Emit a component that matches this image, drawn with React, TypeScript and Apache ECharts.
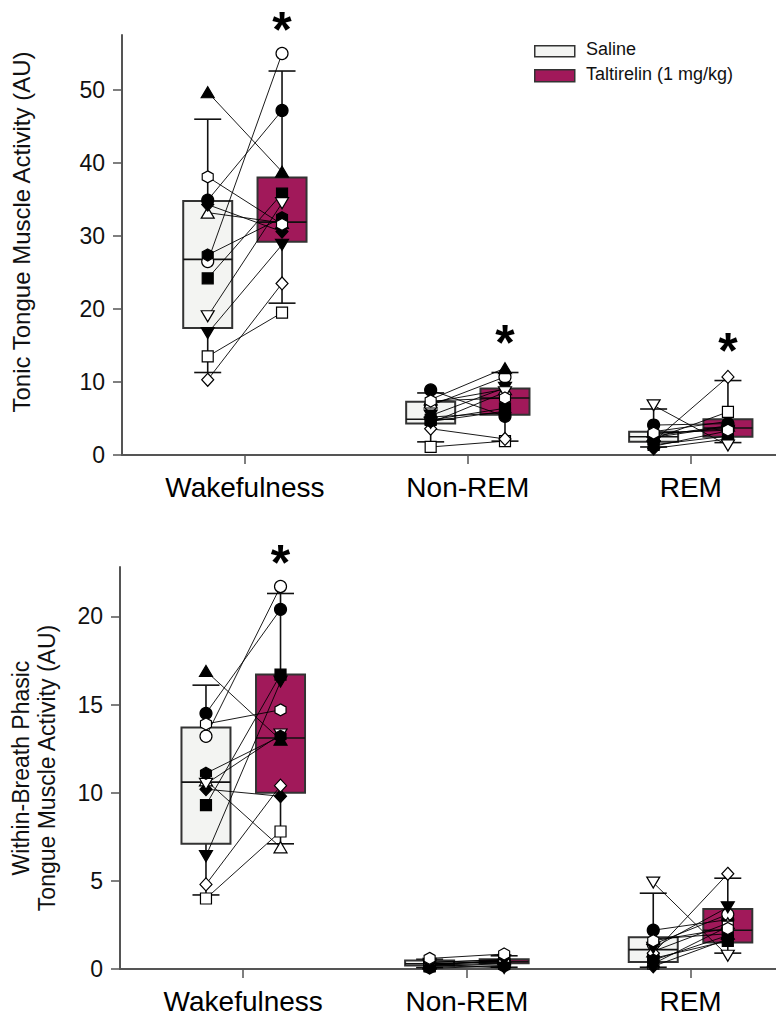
import React, { useEffect, useRef } from 'react';
import * as echarts from 'echarts';

const categories = ['Wakefulness', 'Non-REM', 'REM'];
const groupNames = ['Saline', 'Taltirelin (1 mg/kg)'];

// subject order: ● ○ ▲ △ ■ □ ◆ ◇ ▼ ▽ ⬢ ⬡
const subjectShapes = ['circle', 'circle', 'triangle', 'triangle', 'rect', 'rect', 'diamond', 'diamond', 'triangleDown', 'triangleDown', 'hexagon', 'hexagon'];
const subjectFilled = [true, false, true, false, true, false, true, false, true, false, true, false];

// Tonic tongue muscle activity, per state (Wake, NREM, REM), per subject
const tonicSaline = [
  [34.9, 26.5, 49.7, 33.2, 24.2, 13.5, 34.3, 10.3, 16.7, 19.0, 27.4, 38.1],
  [8.9, 6.8, 7.6, 7.2, 4.8, 1.1, 5.2, 3.6, 5.4, 4.4, 4.6, 7.4],
  [4.1, 2.9, 3.2, 2.6, 1.4, 2.2, 0.9, 1.9, 1.2, 6.8, 2.4, 3.0],
];
const tonicTaltirelin = [
  [47.2, 55.0, 38.8, 31.8, 35.8, 19.5, 30.6, 23.5, 28.8, 34.5, 32.5, 31.6],
  [5.3, 10.7, 11.9, 9.0, 6.4, 1.9, 5.8, 2.2, 9.2, 8.6, 6.0, 7.8],
  [4.3, 3.6, 4.6, 4.0, 2.6, 5.9, 2.2, 10.7, 3.3, 1.3, 3.9, 3.4],
];
// [lower whisker, Q1, median, Q3, upper whisker]
const tonicSalineBox = [[11.3, 17.4, 26.8, 34.8, 46.0], [1.8, 4.3, 4.9, 7.3, 8.5], [1.1, 1.8, 2.5, 3.2, 6.3]];
const tonicTaltirelinBox = [[20.8, 29.2, 31.9, 38.0, 52.6], [1.9, 5.5, 7.8, 9.1, 11.3], [1.7, 2.5, 3.7, 4.9, 10.2]];

// Within-breath phasic tongue muscle activity
const phasicSaline = [
  [14.5, 13.2, 16.9, 10.7, 9.3, 4.0, 10.2, 4.8, 6.4, 10.5, 11.1, 13.9],
  [0.3, 0.4, 0.35, 0.3, 0.15, 0.2, 0.1, 0.25, 0.2, 0.3, 0.05, 0.6],
  [2.2, 1.4, 1.7, 1.0, 0.6, 0.3, 0.15, 0.9, 1.2, 4.9, 0.5, 1.6],
];
const phasicTaltirelin = [
  [20.4, 21.7, 13.0, 6.9, 16.7, 7.8, 9.8, 10.4, 16.3, 13.3, 13.2, 14.7],
  [0.45, 0.5, 0.55, 0.4, 0.3, 0.35, 0.2, 0.45, 0.5, 0.05, 0.15, 0.85],
  [2.8, 3.1, 2.0, 2.6, 1.6, 2.4, 1.7, 5.4, 3.5, 0.75, 1.9, 2.3],
];
const phasicSalineBox = [[4.2, 7.1, 10.6, 13.7, 16.1], [0.08, 0.2, 0.3, 0.48, 0.55], [0.1, 0.4, 1.1, 1.8, 4.3]];
const phasicTaltirelinBox = [[7.1, 10.0, 13.1, 16.7, 21.3], [0.1, 0.32, 0.42, 0.55, 0.75], [0.9, 1.5, 2.2, 3.4, 5.15]];

// significance markers: [state index, y value]
const tonicStars = [[0, 58.2], [1, 15.3], [2, 14.2]];
const phasicStars = [[0, 23.05]];

const tonicTicks = [0, 10, 20, 30, 40, 50];
const phasicTicks = [0, 5, 10, 15, 20];

const SALINE_FILL = '#f3f4f2';
const TALT_FILL = '#a1195a';
const AXIS_COLOR = '#555';
const FONT = 'Liberation Sans, Arial, Helvetica, sans-serif';
const OFF = 37.5 / 225;
const XMIN = -124 / 225;
const XMAX = 536 / 225;

const symbolFor = (shape: string) => {
  if (shape === 'triangleDown') return 'path://M0,0L10,0L5,9Z';
  if (shape === 'hexagon') return 'path://M5,0L9.33,2.5L9.33,7.5L5,10L0.67,7.5L0.67,2.5Z';
  return shape;
};
const sizeFor = (shape: string) => {
  switch (shape) {
    case 'circle': return 12;
    case 'triangle': return [13, 11];
    case 'triangleDown': return [13, 11];
    case 'rect': return 11;
    case 'diamond': return [12, 13];
    case 'hexagon': return [11, 12];
    default: return 12;
  }
};

function buildPanelSeries(gi: number, sal: number[][], tal: number[][], salBox: number[][], talBox: number[][], stars: number[][]) {
  const boxData: number[][] = [];
  const lineData: number[][] = [];
  const pointData: any[] = [];
  categories.forEach((_, i) => {
    boxData.push([i - OFF, ...salBox[i], 0]);
    boxData.push([i + OFF, ...talBox[i], 1]);
    subjectShapes.forEach((shape, s) => {
      lineData.push([i - OFF, sal[i][s], i + OFF, tal[i][s]]);
    });
    [sal, tal].forEach((arr, g) => {
      subjectShapes.forEach((shape, s) => {
        pointData.push({
          value: [i + (g === 0 ? -OFF : OFF), arr[i][s]],
          symbol: symbolFor(shape),
          symbolSize: sizeFor(shape),
          itemStyle: { color: subjectFilled[s] ? '#000' : '#fff', borderColor: '#000', borderWidth: 1.2, opacity: 1 },
        });
      });
    });
  });
  return [
    {
      type: 'custom', xAxisIndex: gi, yAxisIndex: gi, z: 2, clip: false,
      encode: { x: 0, y: [1, 2, 3, 4, 5] },
      data: boxData,
      renderItem: (params: any, api: any) => {
        const x = api.value(0);
        const lo = api.coord([x, api.value(1)]);
        const q1 = api.coord([x, api.value(2)]);
        const med = api.coord([x, api.value(3)]);
        const q3 = api.coord([x, api.value(4)]);
        const hi = api.coord([x, api.value(5)]);
        const fill = api.value(6) === 0 ? SALINE_FILL : TALT_FILL;
        const bw = 49, cw = 27;
        const ls = { stroke: '#111', lineWidth: 1.6 };
        return {
          type: 'group',
          children: [
            { type: 'line', shape: { x1: hi[0], y1: hi[1], x2: q3[0], y2: q3[1] }, style: ls },
            { type: 'line', shape: { x1: lo[0], y1: lo[1], x2: q1[0], y2: q1[1] }, style: ls },
            { type: 'line', shape: { x1: hi[0] - cw / 2, y1: hi[1], x2: hi[0] + cw / 2, y2: hi[1] }, style: ls },
            { type: 'line', shape: { x1: lo[0] - cw / 2, y1: lo[1], x2: lo[0] + cw / 2, y2: lo[1] }, style: ls },
            { type: 'rect', shape: { x: q3[0] - bw / 2, y: q3[1], width: bw, height: q1[1] - q3[1] }, style: { fill, stroke: '#333', lineWidth: 2 } },
            { type: 'line', shape: { x1: med[0] - bw / 2, y1: med[1], x2: med[0] + bw / 2, y2: med[1] }, style: { stroke: '#111', lineWidth: 1.6 } },
          ],
        };
      },
    },
    {
      type: 'custom', xAxisIndex: gi, yAxisIndex: gi, z: 3, clip: false,
      encode: { x: [0, 2], y: [1, 3] },
      data: lineData,
      renderItem: (params: any, api: any) => {
        const a = api.coord([api.value(0), api.value(1)]);
        const b = api.coord([api.value(2), api.value(3)]);
        return { type: 'line', shape: { x1: a[0], y1: a[1], x2: b[0], y2: b[1] }, style: { stroke: '#000', lineWidth: 0.9 } };
      },
    },
    {
      type: 'scatter', xAxisIndex: gi, yAxisIndex: gi, z: 4, clip: false,
      itemStyle: { opacity: 1 },
      data: pointData,
    },
    {
      type: 'custom', xAxisIndex: gi, yAxisIndex: gi, z: 5, clip: false,
      encode: { x: 0, y: 1 },
      data: stars.map((st) => [st[0] + OFF, st[1]]),
      renderItem: (params: any, api: any) => {
        const p = api.coord([api.value(0), api.value(1)]);
        return {
          type: 'text', x: p[0], y: p[1],
          style: { text: '*', fontSize: 50, fontWeight: 'bold', fontFamily: FONT, fill: '#000', align: 'center', verticalAlign: 'middle' },
        };
      },
    },
  ];
}

function makeXAxis(gi: number) {
  return {
    type: 'value', gridIndex: gi, min: XMIN, max: XMAX,
    splitLine: { show: false },
    axisLine: { show: true, onZero: false, lineStyle: { color: AXIS_COLOR, width: 2 } },
    axisTick: { show: true, customValues: [0, 1, 2], length: 9, lineStyle: { color: AXIS_COLOR, width: 1.5 } },
    axisLabel: {
      customValues: [0, 1, 2],
      formatter: (v: number) => categories[Math.round(v)] ?? '',
      fontSize: 28, color: '#000', margin: 18, fontFamily: FONT,
    },
  };
}

function makeYAxis(gi: number, max: number, interval: number, ticks: number[], name: string, nameGap: number, nameSize: number, padding: number[]) {
  return {
    type: 'value', gridIndex: gi, min: 0, max, interval,
    splitLine: { show: false },
    axisLine: { show: true, onZero: false, lineStyle: { color: AXIS_COLOR, width: 2 } },
    axisTick: { show: true, customValues: ticks, length: 9, lineStyle: { color: AXIS_COLOR, width: 1.5 } },
    axisLabel: { customValues: ticks, fontSize: 23, color: '#111', margin: 17, fontFamily: FONT },
    name, nameLocation: 'middle', nameGap, nameRotate: 90,
    nameTextStyle: { fontSize: nameSize, color: '#111', fontFamily: FONT, lineHeight: 26, padding },
  };
}

export default function App() {
  const ref = useRef<HTMLDivElement>(null);
  useEffect(() => {
    if (!ref.current) return;
    const chart = echarts.init(ref.current, null, { renderer: 'svg' });
    const option: any = {
      animation: false,
      backgroundColor: '#fff',
      textStyle: { fontFamily: FONT },
      grid: [
        { left: 116, top: 35, width: 660, height: 420 },
        { left: 116, top: 567, width: 660, height: 402 },
      ],
      xAxis: [makeXAxis(0), makeXAxis(1)],
      yAxis: [
        makeYAxis(0, 420 / 7.3, 10, tonicTicks, 'Tonic Tongue Muscle Activity (AU)', 88, 24, [0, 0, 0, 26]),
        makeYAxis(1, 402 / 17.63, 5, phasicTicks, 'Within-Breath Phasic\nTongue Muscle Activity (AU)', 60, 23, [0, 0, 0, 0]),
      ],
      graphic: [
        { type: 'rect', left: 534, top: 45, shape: { width: 40, height: 11 }, style: { fill: SALINE_FILL, stroke: '#333', lineWidth: 1.5 } },
        { type: 'text', left: 586, top: 40, style: { text: groupNames[0], fontSize: 18, fill: '#111', fontFamily: FONT } },
        { type: 'rect', left: 534, top: 69, shape: { width: 40, height: 12 }, style: { fill: TALT_FILL, stroke: '#333', lineWidth: 1.5 } },
        { type: 'text', left: 586, top: 65, style: { text: groupNames[1], fontSize: 18, fill: '#111', fontFamily: FONT } },
      ],
      series: [
        ...buildPanelSeries(0, tonicSaline, tonicTaltirelin, tonicSalineBox, tonicTaltirelinBox, tonicStars),
        ...buildPanelSeries(1, phasicSaline, phasicTaltirelin, phasicSalineBox, phasicTaltirelinBox, phasicStars),
      ],
    };
    chart.setOption(option);
    return () => chart.dispose();
  }, []);
  return <div ref={ref} style={{ position: 'absolute', left: 0, top: 0, width: 776, height: 1023 }} />;
}
